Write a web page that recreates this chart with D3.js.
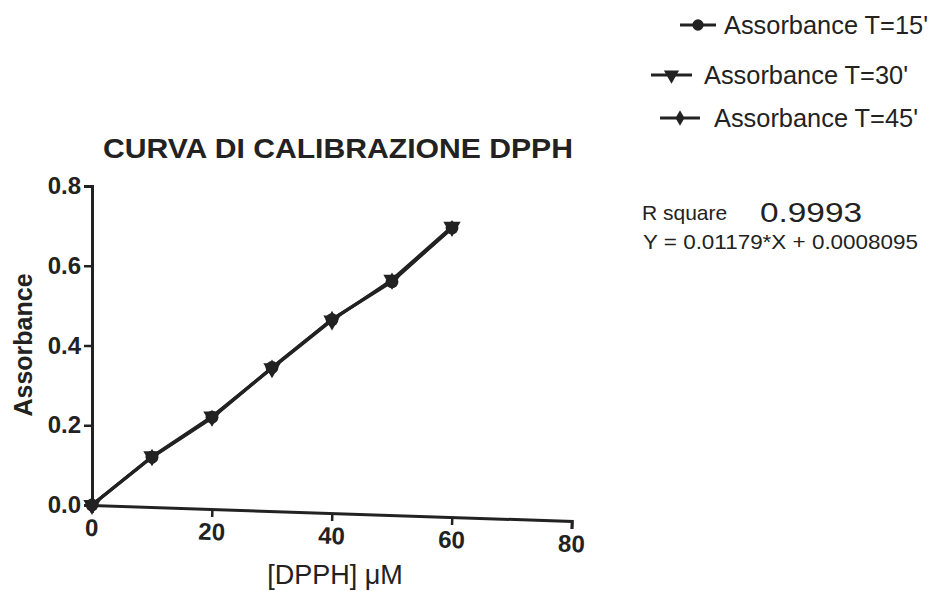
<!DOCTYPE html>
<html><head><meta charset="utf-8">
<script src="https://cdn.jsdelivr.net/npm/d3@7"></script>
<style>body{margin:0;background:#fff}svg{display:block}text{font-family:"Liberation Sans",Arial,sans-serif;fill:#222}</style>
</head><body>
<script>
const concentrations = [0, 10, 20, 30, 40, 50, 60];
const absT15 = [0, 0.120, 0.220, 0.345, 0.465, 0.560, 0.695];
const absT30 = [0, 0.122, 0.222, 0.343, 0.463, 0.565, 0.698];
const absT45 = [0, 0.120, 0.218, 0.344, 0.466, 0.562, 0.694];
const seriesNames = ["Assorbance T=15'", "Assorbance T=30'", "Assorbance T=45'"];
const xTicks = [0, 20, 40, 60, 80];
const yTicks = [0.0, 0.2, 0.4, 0.6, 0.8];

const W = 934, H = 591;
const svg = d3.select("body").append("svg").attr("width", W).attr("height", H);
const ink = "#222";

const x = d3.scaleLinear().domain([0, 80]).range([92, 572]);
const y = d3.scaleLinear().domain([0, 0.8]).range([505, 186]);

// title
svg.append("text").attr("x", 338).attr("y", 158).attr("text-anchor", "middle")
  .attr("font-size", 28).attr("font-weight", "bold").attr("textLength", 470)
  .attr("lengthAdjust", "spacingAndGlyphs").text("CURVA DI CALIBRAZIONE DPPH");

// y axis
const yAxis = d3.axisLeft(y).tickValues(yTicks).tickFormat(d3.format(".1f")).tickSize(8).tickPadding(3);
const gy = svg.append("g").attr("transform", `translate(${x(0)},0)`).call(yAxis);
gy.select(".domain").attr("stroke", ink).attr("stroke-width", 3);
gy.selectAll(".tick line").attr("stroke", ink).attr("stroke-width", 2.5);
gy.selectAll(".tick text").attr("font-size", 24).attr("font-weight", "bold")
  .attr("font-family", "Liberation Sans, Arial, sans-serif").attr("fill", ink);

// x axis (scan is slightly tilted)
const xAxis = d3.axisBottom(x).tickValues(xTicks).tickSize(8).tickPadding(6);
const tilt = Math.atan2(16, 480) * 180 / Math.PI;
const gx = svg.append("g").attr("transform", `rotate(${tilt},${x(0)},${y(0)}) translate(0,${y(0)})`).call(xAxis);
gx.select(".domain").attr("stroke", ink).attr("stroke-width", 3);
gx.selectAll(".tick line").attr("stroke", ink).attr("stroke-width", 2.5);
gx.selectAll(".tick text").attr("font-size", 24).attr("font-weight", "bold")
  .attr("font-family", "Liberation Sans, Arial, sans-serif").attr("fill", ink);

// axis titles
svg.append("text").attr("transform", `translate(32,345) rotate(-90)`).attr("text-anchor", "middle")
  .attr("font-size", 25).attr("font-weight", "bold").text("Assorbance");
svg.append("text").attr("x", 335).attr("y", 584).attr("text-anchor", "middle")
  .attr("font-size", 27).text("[DPPH] \u03bcM");

// data
const allSeries = [absT15, absT30, absT45];
const symbols = [d3.symbolCircle, d3.symbolTriangle, d3.symbolDiamond];
const symSizes = [130, 130, 80];
const line = d3.line().x((d, i) => x(concentrations[i])).y(d => y(d));
allSeries.forEach((vals, s) => {
  svg.append("path").datum(vals).attr("d", line).attr("fill", "none")
    .attr("stroke", ink).attr("stroke-width", 3);
});
allSeries.forEach((vals, s) => {
  svg.append("g").selectAll("path").data(vals).join("path")
    .attr("transform", (d, i) => `translate(${x(concentrations[i])},${y(d)})` + (s === 1 ? " rotate(180)" : ""))
    .attr("d", d3.symbol().type(symbols[s]).size(symSizes[s])).attr("fill", ink);
});

// legend
const legendRows = [
  {lx1: 680, lx2: 716, ly: 25, tx: 724, ty: 34},
  {lx1: 651, lx2: 692, ly: 75, tx: 704, ty: 84},
  {lx1: 660, lx2: 700, ly: 118, tx: 714, ty: 127}
];
legendRows.forEach((r, i) => {
  svg.append("line").attr("x1", r.lx1).attr("x2", r.lx2).attr("y1", r.ly).attr("y2", r.ly)
    .attr("stroke", ink).attr("stroke-width", 3);
  svg.append("path").attr("transform", `translate(${(r.lx1 + r.lx2) / 2},${r.ly})` + (i === 1 ? " rotate(180)" : ""))
    .attr("d", d3.symbol().type(symbols[i]).size(i === 2 ? 70 : 100)).attr("fill", ink);
  svg.append("text").attr("x", r.tx).attr("y", r.ty).attr("font-size", 25)
    .attr("textLength", 204).attr("lengthAdjust", "spacingAndGlyphs").text(seriesNames[i]);
});

// fit statistics
svg.append("text").attr("x", 642).attr("y", 220).attr("font-size", 21).text("R square");
svg.append("text").attr("x", 760).attr("y", 222).attr("font-size", 28).attr("textLength", 102)
  .attr("lengthAdjust", "spacingAndGlyphs").text("0.9993");
svg.append("text").attr("x", 643).attr("y", 249).attr("font-size", 21).attr("textLength", 275)
  .attr("lengthAdjust", "spacingAndGlyphs").text("Y = 0.01179*X + 0.0008095");
</script>
</body></html>
